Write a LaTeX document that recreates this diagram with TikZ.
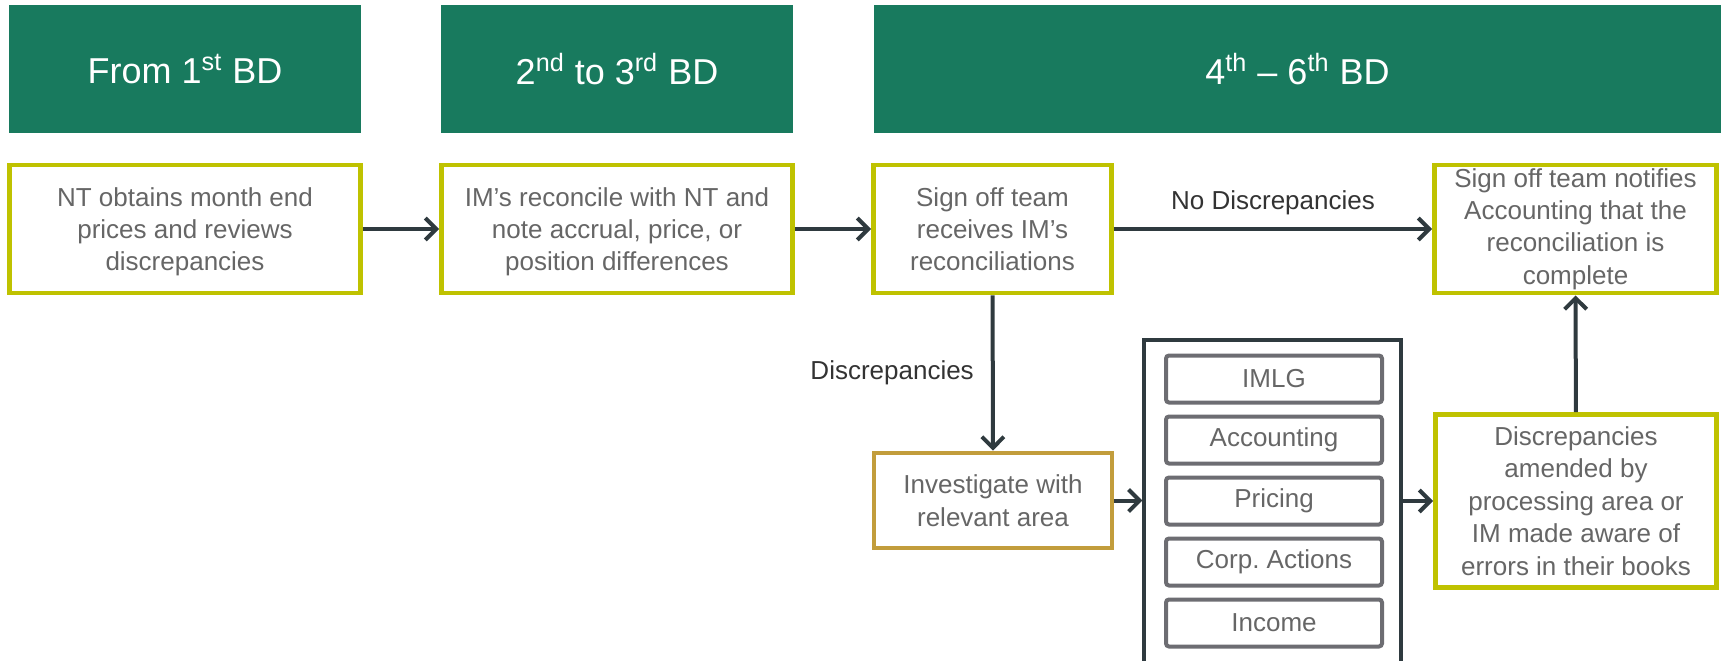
\documentclass[tikz,border=0pt]{standalone}
\usepackage{fontspec}
\setmainfont{Liberation Sans}
\usetikzlibrary{arrows.meta}
\definecolor{hdgreen}{HTML}{187A5E}
\definecolor{limeline}{HTML}{BFC200}
\definecolor{goldline}{HTML}{C29D3C}
\definecolor{txtgray}{HTML}{666666}
\definecolor{lbldark}{HTML}{333333}
\definecolor{arrowdark}{HTML}{2F3A3F}
\definecolor{boxgray}{HTML}{6D6D72}
\begin{document}
\begin{tikzpicture}[x=0.5pt, y=-0.5pt,
  every node/.style={font=\fontsize{13}{16.2}\selectfont},
  hdr/.style={fill=hdgreen, text=white, inner sep=0pt, minimum height=64pt,
    font=\fontsize{18}{22}\selectfont},
  stepbox/.style={draw=limeline, line width=2.4pt, fill=white, text=txtgray,
    align=center, inner sep=0pt, minimum height=64pt},
  lowtext/.style={text depth=-2.2pt},
  invbox/.style={stepbox, draw=goldline},
  areabox/.style={draw=boxgray, line width=2pt, rounded corners=1.5pt, text=txtgray,
    inner sep=0pt, minimum width=108pt, minimum height=23.5pt},
  lbl/.style={text=lbldark, inner sep=0pt},
  flow/.style={draw=arrowdark, line width=2pt, -{Straight Barb[length=5.5pt,width=11pt]}}]
  \useasboundingbox (0,0) rectangle (1721,660);
  % day headers
  \node[hdr, minimum width=176pt] (hd1) at (185,69) {From 1\textsuperscript{st} BD};
  \node[hdr, minimum width=176pt] (hd2) at (617,69) {2\textsuperscript{nd} to 3\textsuperscript{rd} BD};
  \node[hdr, minimum width=423.5pt] (hd3) at (1297.5,69) {4\textsuperscript{th} -- 6\textsuperscript{th} BD};
  % process steps
  \node[stepbox, lowtext, minimum width=175.5pt] (nt) at (185,229) {NT obtains month end\\prices and reviews\\discrepancies};
  \node[stepbox, lowtext, minimum width=175.5pt] (im) at (617,229) {IM’s reconcile with NT and\\note accrual, price, or\\position differences};
  \node[stepbox, lowtext, minimum width=119pt] (sign) at (992.5,229) {Sign off team\\receives IM’s\\reconciliations};
  \node[stepbox, minimum width=141pt] (notify) at (1575.5,229) {Sign off team notifies\\Accounting that the\\reconciliation is\\complete};
  \node[invbox, minimum width=119pt, minimum height=47.5pt] (inv) at (993,500.5) {Investigate with\\relevant area};
  \node[stepbox, minimum width=140.5pt, minimum height=86.5pt] (amend) at (1576,501) {Discrepancies\\amended by\\processing area or\\IM made aware of\\errors in their books};
  % relevant areas
  \node[draw=arrowdark, line width=1.6pt, inner sep=0pt, minimum width=128.5pt, minimum height=166pt] (cont) at (1272.5,506) {};
  \node[areabox] (imlg) at (1274,379) {IMLG};
  \node[areabox] (acct) at (1274,440) {Accounting};
  \node[areabox] (pric) at (1274,501) {Pricing};
  \node[areabox] (corp) at (1274,562) {Corp.\ Actions};
  \node[areabox] (inc) at (1274,623) {Income};
  % connectors
  \draw[flow] (nt) -- (im);
  \draw[flow] (im) -- (sign);
  \draw[flow] (sign) -- node[lbl, midway, above=6pt] {No Discrepancies} (notify);
  \draw[flow] (sign) -- node[lbl, midway, left=8.5pt] {Discrepancies} (inv);
  \draw[flow] (inv.east) -- (inv.east -| cont.west);
  \draw[flow] (cont.east |- amend.west) -- (amend.west);
  \draw[flow] (amend) -- (notify);
\end{tikzpicture}
\end{document}
